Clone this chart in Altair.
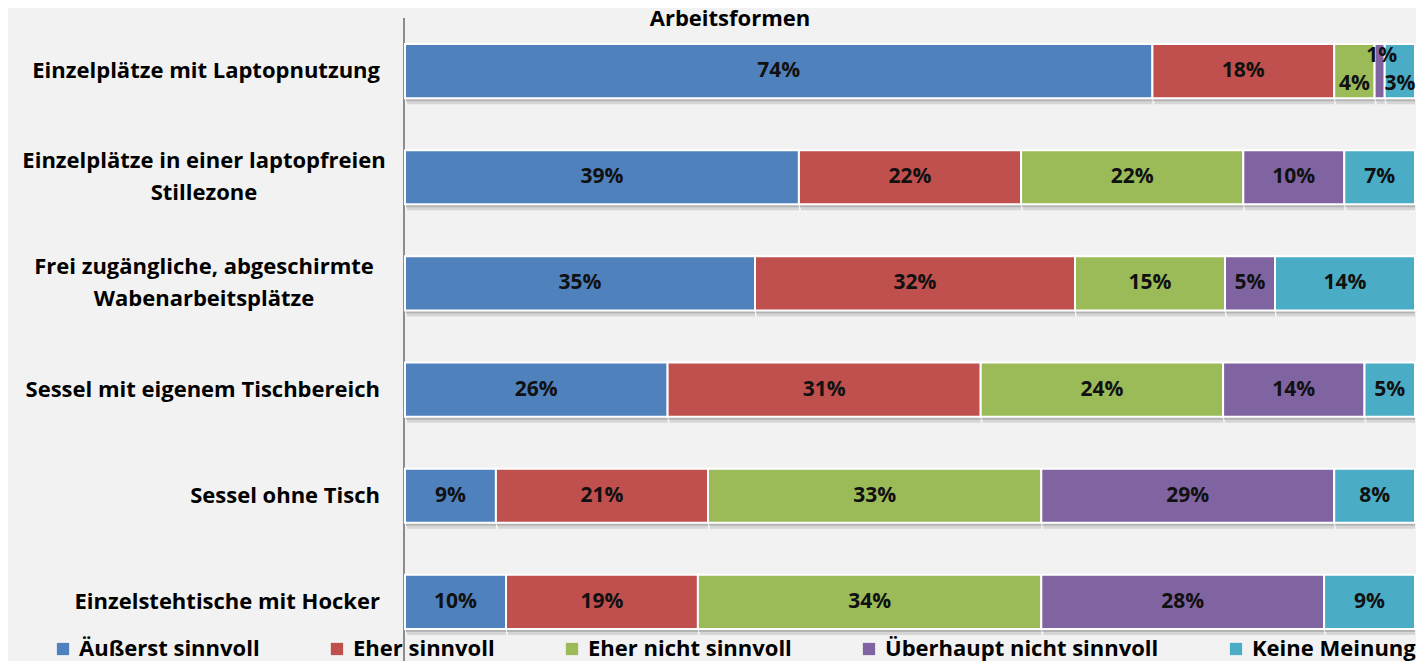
import altair as alt
import pandas as pd

title_text = ["Arbeitsformen"]
categories = [
    "Einzelplätze mit Laptopnutzung",
    "Einzelplätze in einer laptopfreien\nStillezone",
    "Frei zugängliche, abgeschirmte\nWabenarbeitsplätze",
    "Sessel mit eigenem Tischbereich",
    "Sessel ohne Tisch",
    "Einzelstehtische mit Hocker",
]
series = [
    "Äußerst sinnvoll",
    "Eher sinnvoll",
    "Eher nicht sinnvoll",
    "Überhaupt nicht sinnvoll",
    "Keine Meinung",
]
colors = ["#4F81BD", "#C0504D", "#9BBB59", "#8064A2", "#4BACC6"]

aeusserst = [74, 39, 35, 26, 9, 10]
eher = [18, 22, 32, 31, 21, 19]
eher_nicht = [4, 22, 15, 24, 33, 34]
ueberhaupt_nicht = [1, 10, 5, 14, 29, 28]
keine_meinung = [3, 7, 14, 5, 8, 9]

values = [aeusserst, eher, eher_nicht, ueberhaupt_nicht, keine_meinung]

rows = []
for si, (s, vals) in enumerate(zip(series, values)):
    for ci, (c, v) in enumerate(zip(categories, vals)):
        rows.append({"cat": c, "series": s, "order": si, "value": v})
df = pd.DataFrame(rows)

FONT = "Open Sans"
FS = 22

base = alt.Chart(df).transform_stack(
    stack="value", as_=["x0", "x1"], groupby=["cat"],
    sort=[alt.SortField("order", order="ascending")], offset="normalize"
).transform_calculate(
    mid="(datum.x0 + datum.x1) / 2", label="datum.value + '%'"
)

yscale = alt.Scale(domain=categories, paddingInner=0.49, paddingOuter=0.245)
xscale = alt.Scale(domain=[0, 1], nice=False, zero=True)

axis_line = alt.Chart(pd.DataFrame({"a": [0]})).mark_rule(
    color="#8c8c8c", strokeWidth=2).encode(
    x=alt.value(-1), y=alt.value(0), y2=alt.value(660))

title = alt.Chart(pd.DataFrame({"t": title_text})).mark_text(
    font=FONT, fontSize=FS, fontWeight="bold", color="#000", align="center",
    baseline="alphabetic").encode(x=alt.value(325), y=alt.value(8), text="t:N")

shadow_outer = base.mark_bar(color="#d6d6d6").encode(
    x=alt.X("x0:Q", scale=xscale, axis=None), x2="x1:Q",
    y=alt.Y("cat:N", scale=yscale, sort=categories, axis=None),
    yOffset=alt.value(6), xOffset=alt.value(2))
shadow_inner = base.mark_bar(color="#b4b4b4").encode(
    x=alt.X("x0:Q", scale=xscale, axis=None), x2="x1:Q",
    y=alt.Y("cat:N", scale=yscale, sort=categories, axis=None),
    yOffset=alt.value(3), xOffset=alt.value(1))

bars = base.mark_bar(stroke="white", strokeWidth=2).encode(
    x=alt.X("x0:Q", scale=xscale, axis=None),
    x2="x1:Q",
    y=alt.Y("cat:N", scale=yscale, sort=categories, axis=None),
    color=alt.Color("series:N", scale=alt.Scale(domain=series, range=colors),
                    legend=alt.Legend(orient="none", legendX=-353, legendY=620,
                                      direction="horizontal", title=None,
                                      symbolType="square", symbolSize=150,
                                      symbolStrokeWidth=0, labelLimit=500,
                                      labelFont=FONT, labelFontSize=FS,
                                      labelFontWeight="bold", labelColor="#000",
                                      columnPadding=66, labelOffset=5)),
)

txt_style = dict(font=FONT, fontSize=21, fontWeight="bold", color="#111",
                 baseline="middle", align="center")

labels_main = base.transform_filter("datum.value > 4").mark_text(**txt_style).encode(
    x=alt.X("mid:Q", scale=xscale), y=alt.Y("cat:N", scale=yscale, sort=categories),
    text="label:N")
labels_low = base.transform_filter("datum.value == 3 || datum.value == 4").mark_text(
    dy=13, **txt_style).encode(
    x=alt.X("mid:Q", scale=xscale), y=alt.Y("cat:N", scale=yscale, sort=categories),
    text="label:N")
labels_up = base.transform_filter("datum.value == 1").mark_text(
    dy=-15, dx=2, **txt_style).encode(
    x=alt.X("mid:Q", scale=xscale), y=alt.Y("cat:N", scale=yscale, sort=categories),
    text="label:N")

cat_df = pd.DataFrame({"cat": categories, "multi": ["\n" in c for c in categories]})
ylab_single = alt.Chart(cat_df).transform_filter("!datum.multi").mark_text(
    font=FONT, fontSize=FS, fontWeight="bold", color="#000", align="right",
    baseline="middle").encode(
    x=alt.value(-25), y=alt.Y("cat:N", scale=yscale, sort=categories), text="cat:N")
ylab_multi = alt.Chart(cat_df).transform_filter("datum.multi").mark_text(
    font=FONT, fontSize=FS, fontWeight="bold", color="#000", align="center",
    baseline="middle", lineBreak="\n", lineHeight=32, dy=-16).encode(
    x=alt.value(-201), y=alt.Y("cat:N", scale=yscale, sort=categories), text="cat:N")

chart = alt.layer(axis_line, shadow_outer, shadow_inner, bars, labels_main, labels_low,
                  labels_up, ylab_single, ylab_multi, title).properties(
    width=1010, height=637,
    autosize=alt.AutoSizeParams(type="none"),
    padding={"left": 397, "top": 10, "right": 1, "bottom": 6},
).configure(background="#f2f2f2").configure_view(stroke=None)

chart.save("out.html", embed_options={"renderer": "svg", "actions": False})
